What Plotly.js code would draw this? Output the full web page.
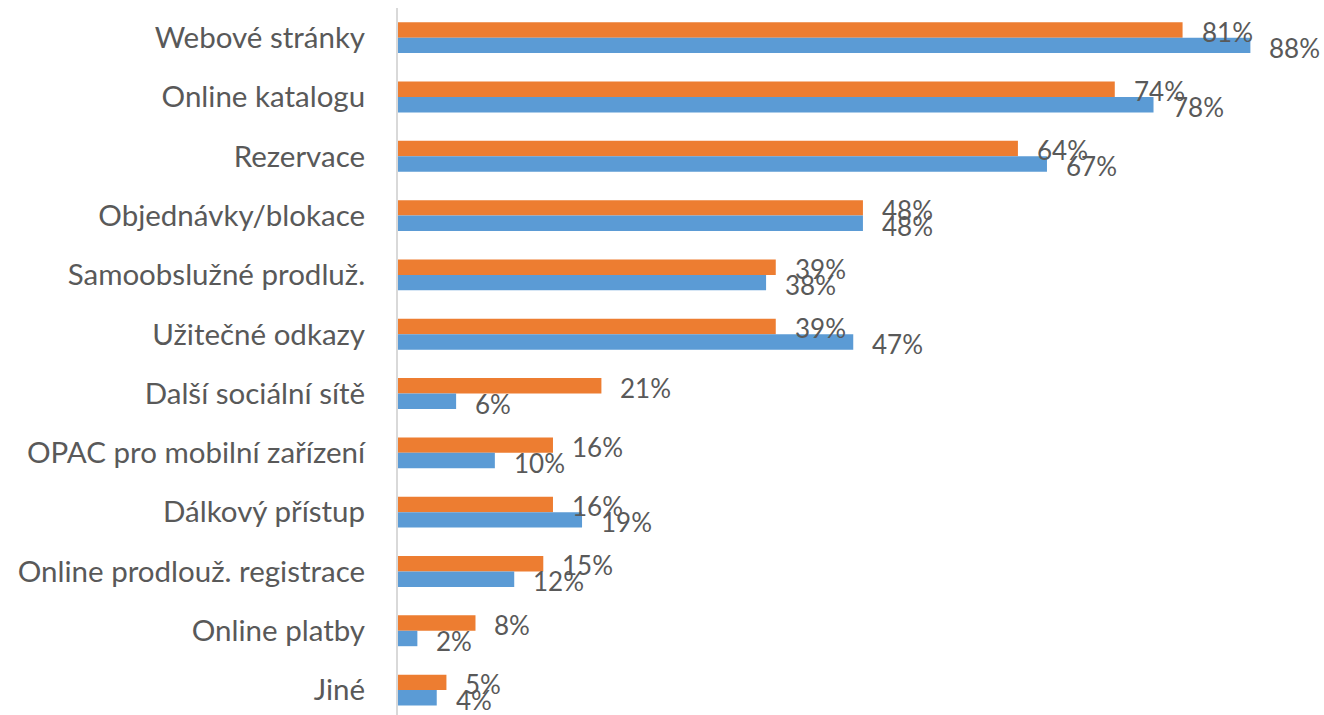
<!DOCTYPE html>
<html>
<head>
<meta charset="utf-8">
<script src="https://cdn.plot.ly/plotly-3.0.1.min.js"></script>
<style>
  html, body { margin: 0; padding: 0; background: #fff; }
  #chart { width: 1324px; height: 715px; }
</style>
</head>
<body>
<div id="chart"></div>
<script>
const categories = [
  'Webové stránky',
  'Online katalogu',
  'Rezervace',
  'Objednávky/blokace',
  'Samoobslužné prodluž.',
  'Užitečné odkazy',
  'Další sociální sítě',
  'OPAC pro mobilní zařízení',
  'Dálkový přístup',
  'Online prodlouž. registrace',
  'Online platby',
  'Jiné',
];

// oranžová řada (horní pruh)
const orangeValues = [81, 74, 64, 48, 39, 39, 21, 16, 16, 15, 8, 5];
// modrá řada (dolní pruh)
const blueValues = [88, 78, 67, 48, 38, 47, 6, 10, 19, 12, 2, 4];

const textColor = '#595959';
const fontFamily = 'Lato, "Open Sans", sans-serif';

const orangeBars = {
  x: orangeValues,
  y: categories,
  type: 'bar',
  orientation: 'h',
  marker: { color: '#ED7D31' },
  hoverinfo: 'x',
};

const blueBars = {
  x: blueValues,
  y: categories,
  type: 'bar',
  orientation: 'h',
  marker: { color: '#5B9BD5' },
  hoverinfo: 'x',
};

// popisky hodnot
const labelFont = { family: fontFamily, size: 26, color: textColor };
const annotations = [];
categories.forEach((cat, i) => {
  annotations.push({
    x: orangeValues[i], y: cat, text: orangeValues[i] + '%',
    xanchor: 'left', yanchor: 'middle', xshift: 17, yshift: 6,
    showarrow: false, font: labelFont,
  });
  annotations.push({
    x: blueValues[i], y: cat, text: blueValues[i] + '%',
    xanchor: 'left', yanchor: 'middle', xshift: 17, yshift: -10,
    showarrow: false, font: labelFont,
  });
});

const layout = {
  width: 1324,
  height: 715,
  margin: { l: 398, r: 0, t: 8, b: 0 },
  paper_bgcolor: '#fff',
  plot_bgcolor: '#fff',
  showlegend: false,
  barmode: 'group',
  bargap: 0.48,
  bargroupgap: 0,
  xaxis: {
    range: [0, 95.6],
    showgrid: false,
    zeroline: false,
    showticklabels: false,
    showline: false,
  },
  yaxis: {
    type: 'category',
    range: [11.42, -0.5],
    showgrid: false,
    zeroline: false,
    showline: true,
    linecolor: '#d9d9d9',
    linewidth: 2,
    ticks: '',
    ticklabelstandoff: 25,
    tickfont: { family: fontFamily, size: 29.5, color: textColor },
  },
  annotations,
};

Plotly.newPlot('chart', [orangeBars, blueBars], layout, { displayModeBar: false });
</script>
</body>
</html>
